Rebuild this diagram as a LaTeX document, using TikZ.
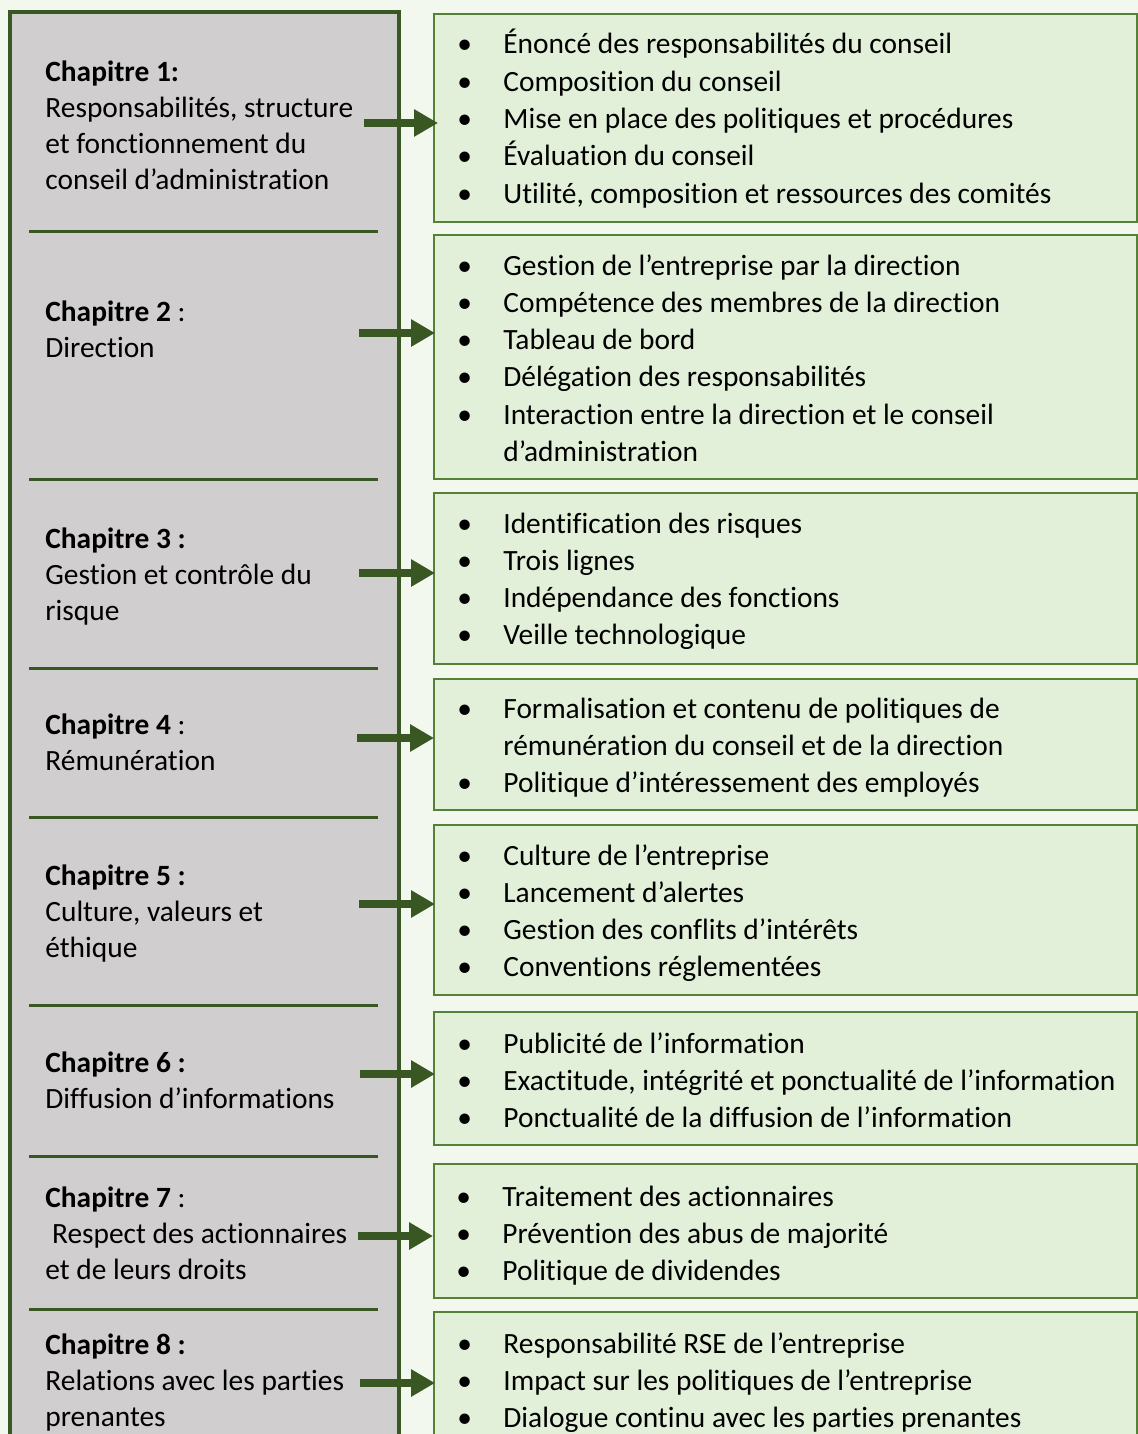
\documentclass[tikz,border=0pt]{standalone}
\usepackage{fontspec}
\setmainfont{Carlito}[Ligatures=CommonOff]
\usepackage{xcolor}
\definecolor{pagebg}{RGB}{242, 248, 238}
\definecolor{chapfill}{RGB}{208, 206, 206}
\definecolor{darkgreen}{RGB}{56, 87, 35}
\definecolor{boxgreen}{RGB}{83, 129, 53}
\definecolor{boxfill}{RGB}{226, 239, 217}
\usepackage{tikz}
\usetikzlibrary{arrows.meta,positioning}

\newcommand{\blt}{\textbullet}
\newcommand{\bulletlist}[1]{\begin{tabular}[t]{@{}p{23pt}@{}l@{}}#1\end{tabular}}
\newcommand{\chaplines}[1]{\begin{tabular}[t]{@{}l@{}}#1\end{tabular}}

\begin{document}
\begin{tikzpicture}[x=0.5pt, y=-0.5pt, >={Triangle[length=12pt, width=13pt]},
    chaptext/.style={anchor=base west, inner sep=0pt, font=\fontsize{14.7}{18}\selectfont},
    listtext/.style={anchor=base west, inner sep=0pt, font=\fontsize{14.7}{18.65}\selectfont},
    listbox/.style={draw=boxgreen, line width=1pt, fill=boxfill},
    sepline/.style={darkgreen, line width=1.5pt},
    chaparrow/.style={->, darkgreen, line width=4pt}]

    \useasboundingbox[fill=pagebg] (0,0) rectangle (1138,1434);

    % left column
    \draw[darkgreen, line width=2pt, fill=chapfill] (10,12) rectangle (399,1460);
    \draw[sepline] (29,231) -- (378,231);
    \draw[sepline] (29,479) -- (378,479);
    \draw[sepline] (29,668) -- (378,668);
    \draw[sepline] (29,817) -- (378,817);
    \draw[sepline] (29,1005) -- (378,1005);
    \draw[sepline] (29,1156) -- (378,1156);
    \draw[sepline] (29,1309) -- (378,1309);

    \node[chaptext] (C1) at (45,82) {\chaplines{\textbf{Chapitre 1:}\\ Responsabilités, structure\\ et fonctionnement du\\ conseil d’administration}};
    \node[chaptext] (C2) at (45,321) {\chaplines{\textbf{Chapitre 2} :\\ Direction}};
    \node[chaptext] (C3) at (45,548) {\chaplines{\textbf{Chapitre 3 :}\\ Gestion et contrôle du\\ risque}};
    \node[chaptext] (C4) at (45,734) {\chaplines{\textbf{Chapitre 4} :\\ Rémunération}};
    \node[chaptext] (C5) at (45,885) {\chaplines{\textbf{Chapitre 5 :}\\ Culture, valeurs et\\ éthique}};
    \node[chaptext] (C6) at (45,1072) {\chaplines{\textbf{Chapitre 6 :}\\ Diffusion d’informations}};
    \node[chaptext] (C7) at (45,1207) {\chaplines{\textbf{Chapitre 7} :\\ \ Respect des actionnaires\\ et de leurs droits}};
    \node[chaptext] (C8) at (45,1354) {\chaplines{\textbf{Chapitre 8 :}\\ Relations avec les parties\\ prenantes}};

    % right column
    \draw[listbox] (434,14) rectangle (1137,222);
    \draw[listbox] (434,235) rectangle (1137,479);
    \draw[listbox] (434,493) rectangle (1137,664);
    \draw[listbox] (434,679) rectangle (1137,810);
    \draw[listbox] (434,825) rectangle (1137,995);
    \draw[listbox] (434,1012) rectangle (1137,1145);
    \draw[listbox] (434,1164) rectangle (1137,1298);
    \draw[listbox] (434,1312) rectangle (1137,1460);

    \node[listtext] (L1) at (457,54) {\bulletlist{\blt & Énoncé des responsabilités du conseil\\ \blt & Composition du conseil\\ \blt & Mise en place des politiques et procédures\\ \blt & Évaluation du conseil\\ \blt & Utilité, composition et ressources des comités}};
    \node[listtext] (L2) at (457,275) {\bulletlist{\blt & Gestion de l’entreprise par la direction\\ \blt & Compétence des membres de la direction\\ \blt & Tableau de bord\\ \blt & Délégation des responsabilités\\ \blt & Interaction entre la direction et le conseil\\ & d’administration}};
    \node[listtext] (L3) at (457,533) {\bulletlist{\blt & Identification des risques\\ \blt & Trois lignes\\ \blt & Indépendance des fonctions\\ \blt & Veille technologique}};
    \node[listtext] (L4) at (457,718) {\bulletlist{\blt & Formalisation et contenu de politiques de\\ & rémunération du conseil et de la direction\\ \blt & Politique d’intéressement des employés}};
    \node[listtext] (L5) at (457,865) {\bulletlist{\blt & Culture de l’entreprise\\ \blt & Lancement d’alertes\\ \blt & Gestion des conflits d’intérêts\\ \blt & Conventions réglementées}};
    \node[listtext] (L6) at (457,1053) {\bulletlist{\blt & Publicité de l’information\\ \blt & Exactitude, intégrité et ponctualité de l’information\\ \blt & Ponctualité de la diffusion de l’information}};
    \node[listtext] (L7) at (456,1206) {\bulletlist{\blt & Traitement des actionnaires\\ \blt & Prévention des abus de majorité\\ \blt & Politique de dividendes}};
    \node[listtext] (L8) at (457,1353) {\bulletlist{\blt & Responsabilité RSE de l’entreprise\\ \blt & Impact sur les politiques de l’entreprise\\ \blt & Dialogue continu avec les parties prenantes}};

    % arrows
    \coordinate (S1) at (364,123);  \coordinate (T1) at (438,123);
    \coordinate (S2) at (359,333);  \coordinate (T2) at (435,333);
    \coordinate (S3) at (359,573);  \coordinate (T3) at (435,573);
    \coordinate (S4) at (357,738);  \coordinate (T4) at (434,738);
    \coordinate (S5) at (359,904);  \coordinate (T5) at (435,904);
    \coordinate (S6) at (360,1074); \coordinate (T6) at (435,1074);
    \coordinate (S7) at (358,1236); \coordinate (T7) at (433,1236);
    \coordinate (S8) at (360,1383); \coordinate (T8) at (435,1383);
    \draw[chaparrow] (S1) -- (T1);
    \draw[chaparrow] (S2) -- (T2);
    \draw[chaparrow] (S3) -- (T3);
    \draw[chaparrow] (S4) -- (T4);
    \draw[chaparrow] (S5) -- (T5);
    \draw[chaparrow] (S6) -- (T6);
    \draw[chaparrow] (S7) -- (T7);
    \draw[chaparrow] (S8) -- (T8);
\end{tikzpicture}
\end{document}
